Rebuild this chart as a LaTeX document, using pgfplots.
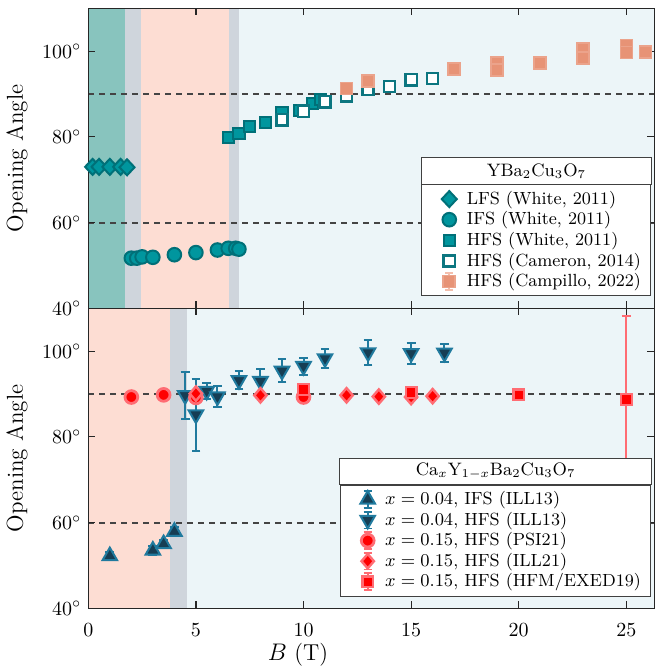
\documentclass[border=0pt]{standalone}
\usepackage{pgfplots}
\pgfplotsset{compat=1.18}
\usetikzlibrary{calc}
\definecolor{bgteal}{RGB}{136,196,190}
\definecolor{bggray}{RGB}{207,213,220}
\definecolor{bgsalmon}{RGB}{253,221,211}
\definecolor{bgblue}{RGB}{236,245,248}
\definecolor{tealF}{RGB}{0,150,158}
\definecolor{tealE}{RGB}{0,112,120}
\definecolor{camE}{RGB}{12,118,128}
\definecolor{orgF}{RGB}{231,147,118}
\definecolor{orgE}{RGB}{243,190,172}
\definecolor{navyF}{RGB}{22,62,84}
\definecolor{navyE}{RGB}{32,122,158}
\definecolor{redF}{RGB}{255,0,0}
\definecolor{redE}{RGB}{255,108,115}
\definecolor{dashc}{RGB}{68,68,68}

\tikzset{dashln/.style={dashc, line width=1.05pt, dash pattern=on 3pt off 2.5pt}}

\pgfplotsset{
  myaxis/.style={
    scale only axis, width=283pt, height=150pt,
    xmin=0, xmax=26.3, ymin=40, ymax=110,
    xtick={0,5,10,15,20,25}, ytick={40,60,80,100},
    tick align=inside, major tick length=3.5pt,
    axis on top,
    axis line style={line width=0.6pt, black!85},
    every tick/.style={black!85, line width=0.6pt},
    yticklabel={$\pgfmathprintnumber{\tick}^{\circ}$},
    tick label style={font=\fontsize{10.3}{12}\selectfont},
    xticklabel style={yshift=-4pt},
    ylabel={Opening Angle},
    ylabel style={font=\fontsize{11.5}{13}\selectfont, at={(axis description cs:-0.126,0.5)}, anchor=center},
    legend cell align=left,
    axis background/.style={fill=bgblue},
    legend image code/.code={
      \path (0pt,0pt) (17pt,0pt);
      \draw[#1, only marks] plot coordinates {(10.5pt,0pt)};
    },
  },
  errleg/.style={legend image code/.code={
     \path (0pt,0pt) (17pt,0pt);
     \draw[#1, line width=0.9pt] (10.5pt,-4.2pt) -- (10.5pt,4.2pt)
        (8.5pt,-4.2pt) -- (12.5pt,-4.2pt) (8.5pt,4.2pt) -- (12.5pt,4.2pt);
     \draw[##1, only marks] plot coordinates {(10.5pt,0pt)};
  }},
  legsty/.style={font=\fontsize{8.8}{10.6}\selectfont, draw=black!75, line width=0.5pt, fill=white,
    nodes={inner xsep=2pt, inner ysep=1.1pt}, anchor=south east},
}

\begin{document}
\begin{tikzpicture}
% ---------------- bottom panel ----------------
\begin{axis}[myaxis, at={(0pt,0pt)},
  xlabel={$B$ (T)},
  xlabel style={font=\fontsize{11.5}{13}\selectfont, at={(axis description cs:0.3705,0)}, anchor=center, yshift=-23.3pt},
  legend style={legsty, name=legB, at={(0.995,0.039)}},
]
\fill[bgsalmon] (axis cs:0,40) rectangle (axis cs:3.81,110);
\fill[bggray] (axis cs:3.81,40) rectangle (axis cs:4.6,110);
\draw[dashln] (axis cs:0,90) -- (axis cs:26.3,90);
\draw[dashln] (axis cs:0,60) -- (axis cs:26.3,60);

\addplot[only marks, mark=triangle*, mark size=4.2pt,
  mark options={fill=navyF, draw=navyE, line width=1pt},
  errleg={navyE},
  error bars/.cd, y dir=both, y explicit,
  error bar style={navyE, line width=1pt},
  error mark options={navyE, line width=1pt, mark size=2.2pt, rotate=90}]
  table[x=x, y=y, y error=e] {
x y e
1.0 52.2 1.0
3.0 53.5 1.0
3.5 55.0 1.0
4.0 57.9 1.0
};
\addlegendentry{$x=0.04$, IFS (ILL13)}

\addplot[only marks, mark=triangle*, mark size=4.2pt,
  mark options={fill=navyF, draw=navyE, line width=1pt, rotate=180},
  errleg={navyE},
  error bars/.cd, y dir=both, y explicit,
  error bar style={navyE, line width=1pt},
  error mark options={navyE, line width=1pt, mark size=2.2pt, rotate=90}]
  table[x=x, y=y, y error=e] {
x y e
4.5 89.7 5.5
5.0 85.2 8.4
5.5 90.7 1.9
6.0 89.4 2.5
7.0 93.2 2.1
8.0 93.0 2.9
9.0 95.4 2.7
10.0 96.5 2.0
11.0 98.3 2.3
13.0 99.7 2.9
15.0 99.5 2.4
16.55 99.6 2.1
};
\addlegendentry{$x=0.04$, HFS (ILL13)}

\addplot[only marks, mark=*, mark size=3.2pt,
  mark options={fill=redF, draw=redE, line width=1.4pt},
  errleg={redE},
  error bars/.cd, y dir=both, y explicit,
  error bar style={redE, line width=1pt},
  error mark options={redE, line width=1pt, mark size=2.2pt, rotate=90}]
  table[x=x, y=y, y error=e] {
x y e
2.0 89.3 0.5
3.5 89.8 0.5
5.0 89.2 0.5
10.0 89.3 0.5
};
\addlegendentry{$x=0.15$, HFS (PSI21)}

\addplot[only marks, mark=diamond*, mark size=3.6pt,
  mark options={fill=redF, draw=redE, line width=1.2pt, xscale=1.15},
  errleg={redE},
  error bars/.cd, y dir=both, y explicit,
  error bar style={redE, line width=1pt},
  error mark options={redE, line width=1pt, mark size=2.2pt, rotate=90}]
  table[x=x, y=y, y error=e] {
x y e
5.0 90.1 0.6
8.0 89.7 0.6
12.0 89.7 0.5
13.5 89.4 0.5
15.0 89.3 0.6
16.0 89.5 0.5
};
\addlegendentry{$x=0.15$, HFS (ILL21)}

\addplot[only marks, mark=square*, mark size=2.7pt,
  mark options={fill=redF, draw=redE, line width=1.2pt},
  errleg={redE},
  error bars/.cd, y dir=both, y explicit,
  error bar style={redE, line width=1pt},
  error mark options={redE, line width=1pt, mark size=2.2pt, rotate=90}]
  table[x=x, y=y, y error=e] {
x y e
10.0 91.1 0.6
15.0 90.4 0.5
20.0 89.8 0.6
25.0 88.7 19.5
};
\addlegendentry{$x=0.15$, HFS (HFM/EXED19)}
\end{axis}

% ---------------- top panel ----------------
\begin{axis}[myaxis, at={(0pt,150pt)},
  xticklabels={},
  legend style={legsty, name=legA, at={(0.995,0.04)}},
]
\fill[bgteal] (axis cs:0,40) rectangle (axis cs:1.72,110);
\fill[bggray] (axis cs:1.72,40) rectangle (axis cs:2.47,110);
\fill[bgsalmon] (axis cs:2.47,40) rectangle (axis cs:6.56,110);
\fill[bggray] (axis cs:6.56,40) rectangle (axis cs:7.02,110);
\draw[dashln] (axis cs:0,90) -- (axis cs:26.3,90);
\draw[dashln] (axis cs:0,60) -- (axis cs:26.3,60);

\addplot[only marks, mark=diamond*, mark size=4pt,
  mark options={fill=tealF, draw=tealE, line width=1pt, xscale=1.25}]
  coordinates {(0.2,73.0) (0.5,73.0) (1.0,73.0) (1.5,73.0) (1.8,72.9)};
\addlegendentry{LFS (White, 2011)}

\addplot[only marks, mark=*, mark size=3.4pt,
  mark options={fill=tealF, draw=tealE, line width=1pt}]
  coordinates {(2.0,51.7) (2.25,51.7) (2.5,52.0) (3.0,51.9) (4.0,52.5) (5.0,53.0)
               (6.0,53.6) (6.5,54.0) (6.85,54.0) (7.0,53.8)};
\addlegendentry{IFS (White, 2011)}

\addplot[only marks, mark=square*, mark size=2.8pt,
  mark options={fill=tealF, draw=tealE, line width=1pt}]
  coordinates {(6.5,79.8) (7.0,80.7) (7.5,82.5) (8.25,83.4) (9.0,85.6) (9.8,86.2)
               (10.4,87.8) (10.8,88.8)};
\addlegendentry{HFS (White, 2011)}

\addplot[only marks, mark=square*, mark size=2.8pt,
  mark options={fill=white, draw=camE, line width=1.2pt}]
  coordinates {(9.0,84.0) (10.0,86.0) (11.0,88.2) (12.0,89.6) (13.0,91.1) (14.0,91.8)
               (15.0,93.3) (16.0,93.6)};
\addlegendentry{HFS (Cameron, 2014)}

\addplot[only marks, mark=square*, mark size=3pt,
  mark options={fill=orgF, draw=orgF!85!white, line width=0.8pt},
  errleg={orgE},
  error bars/.cd, y dir=both, y explicit,
  error bar style={orgE, line width=0.8pt},
  error mark options={orgE, line width=0.8pt, mark size=2pt, rotate=90}]
  table[x=x, y=y, y error=e] {
x y e
12.0 91.3 0.4
13.0 93.0 0.4
17.0 95.8 0.4
19.0 97.2 0.4
19.0 95.6 0.4
21.0 97.3 0.4
23.0 100.5 0.4
23.0 98.4 0.4
25.0 101.3 0.4
25.0 99.7 0.4
25.9 99.8 0.4
};
\addlegendentry{HFS (Campillo, 2022)}
\end{axis}

% legend titles
\path let \p1=(legA.north west), \p2=(legA.north east) in
  node[draw=black!75, line width=0.5pt, fill=white, anchor=south west,
       minimum width=\x2-\x1, minimum height=13.2pt, inner sep=0pt, outer sep=0pt,
       font=\fontsize{9}{10.8}\selectfont] at (\x1,\y1) {YBa$_2$Cu$_3$O$_7$};
\path let \p1=(legB.north west), \p2=(legB.north east) in
  node[draw=black!75, line width=0.5pt, fill=white, anchor=south west,
       minimum width=\x2-\x1, minimum height=13.2pt, inner sep=0pt, outer sep=0pt,
       font=\fontsize{9}{10.8}\selectfont] at (\x1,\y1) {Ca$_x$Y$_{1-x}$Ba$_2$Cu$_3$O$_7$};

\pgfresetboundingbox
\path (-44.15pt,-31.35pt) rectangle (283pt,304.15pt);
\end{tikzpicture}
\end{document}
